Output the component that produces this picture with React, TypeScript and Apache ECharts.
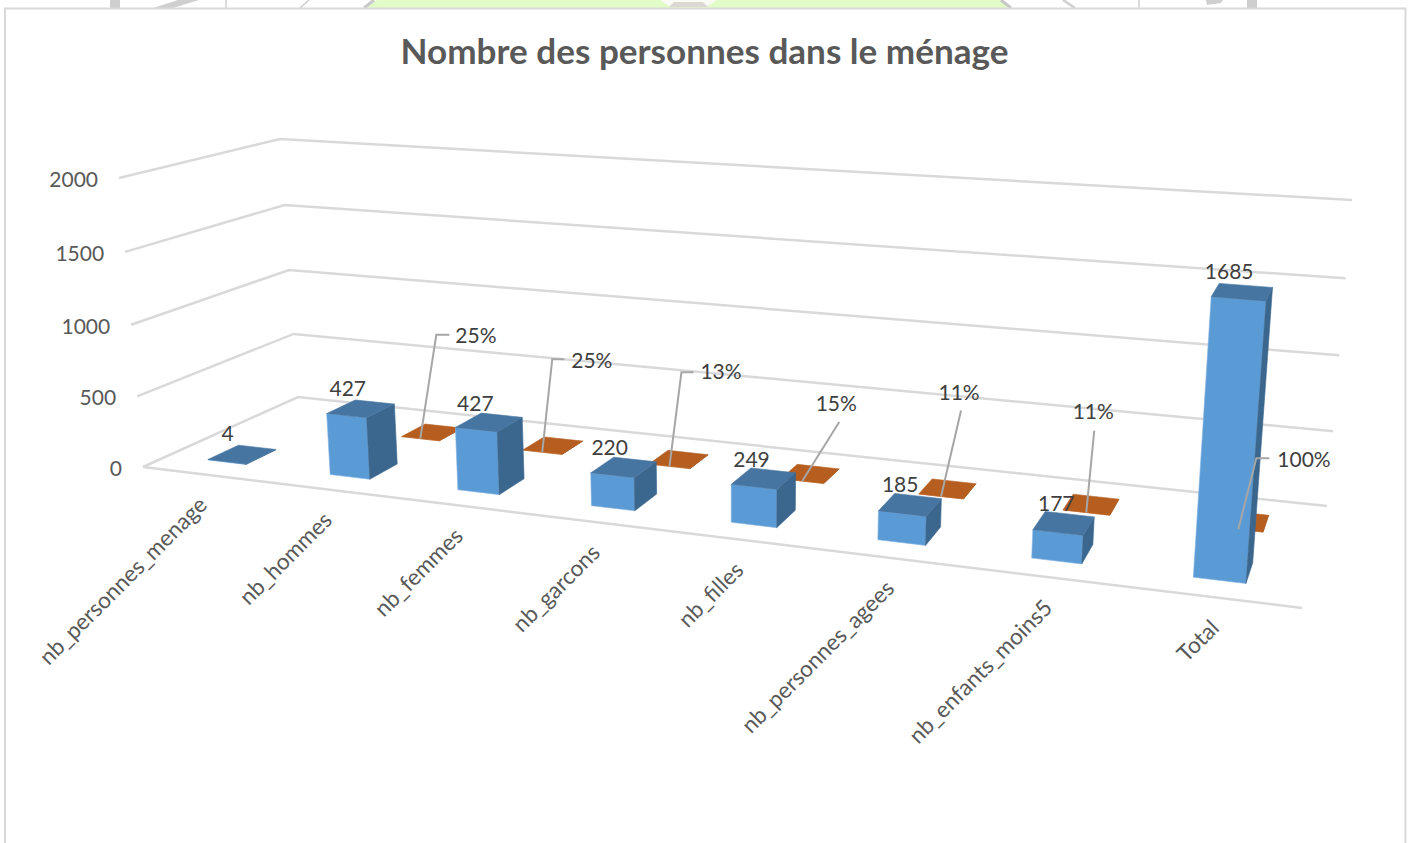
import React, { useEffect, useRef } from "react";
import * as echarts from "echarts";

const titleText = "Nombre des personnes dans le ménage";
const categories = ["nb_personnes_menage", "nb_hommes", "nb_femmes", "nb_garcons", "nb_filles", "nb_personnes_agees", "nb_enfants_moins5", "Total"];
const countValues = [4, 427, 427, 220, 249, 185, 177, 1685];
const shareValues = [null, 0.25, 0.25, 0.13, 0.15, 0.11, 0.11, 1];
const shareLabels = ["", "25%", "25%", "13%", "15%", "11%", "11%", "100%"];
const valueTicks = [0, 500, 1000, 1500, 2000];

// Layout only: where Excel placed the labels, relative to the bar they belong to.
const countLabelOffsets = [[-11, -13], [-7.5, -12], [-6, -11], [-4, -11], [0.5, -9], [5.5, -10], [11, -9], [10, -13]];
const leaderLayouts: any[] = [
  null,
  { pts: [[16, -104], [29, -104]], label: [35, -104], align: "left" },
  { pts: [[10, -93], [22, -93]], label: [29, -93], align: "left" },
  { pts: [[12, -94], [24, -94]], label: [31, -96], align: "left" },
  { pts: [[37, -59]], label: [34, -79], align: "center" },
  { pts: [[20, -86]], label: [18, -105], align: "center" },
  { pts: [[8, -82]], label: [7, -102], align: "center" },
  { pts: [[18, -71], [31, -71]], label: [39, -71], align: "left" },
];

const FONT = "Lato, Carlito, sans-serif";
const GRID = { left: 143, top: 178, width: 1159, height: 289 };
const FLOOR = [[143, 467], [1302, 608], [1327, 506], [298, 397]]; // front-left, front-right, back-right, back-left
const CEILING = [[119, 178], [1329, 262], [1352, 200], [280, 139]];
const VERTICAL_VANISH = [741, 7675];
const BLUE = { front: "#5B9BD5", edge: "#86B6E2", top: "#4675A1", side: "#3B668E" };
const ORANGE = { front: "#ED7D31", edge: "#E3A67C", top: "#B65E20", side: "#8F4A18" };
const BAR_U: [number, number] = [0.33, 0.645];
const BLUE_V: [number, number] = [0.15, 0.34];
const ORANGE_V: [number, number] = [0.65, 0.83];
const RISE = -0.03;

function homography(q: number[][]) {
  const [p0, p1, p2, p3] = q;
  const dx1 = p1[0] - p2[0], dx2 = p3[0] - p2[0], sx = p0[0] - p1[0] + p2[0] - p3[0];
  const dy1 = p1[1] - p2[1], dy2 = p3[1] - p2[1], sy = p0[1] - p1[1] + p2[1] - p3[1];
  const det = dx1 * dy2 - dx2 * dy1;
  const g = (sx * dy2 - dx2 * sy) / det;
  const h = (dx1 * sy - sx * dy1) / det;
  const a = p1[0] - p0[0] + g * p1[0], b = p3[0] - p0[0] + h * p3[0];
  const d = p1[1] - p0[1] + g * p1[1], e = p3[1] - p0[1] + h * p3[1];
  return (u: number, v: number) => {
    const w = g * u + h * v + 1;
    return [(a * u + b * v + p0[0]) / w, (d * u + e * v + p0[1]) / w];
  };
}
const floorAt = homography(FLOOR);
const ceilAt = homography(CEILING);
const rise = (hgt: number) => (hgt * (1 + RISE)) / (1 + RISE * hgt);
function project(u: number, v: number, hgt: number) {
  const f = floorAt(u, v), c = ceilAt(u, v);
  const y = f[1] + (c[1] - f[1]) * rise(hgt);
  const x = f[0] + ((f[1] - y) * (f[0] - VERTICAL_VANISH[0])) / (VERTICAL_VANISH[1] - f[1]);
  return [x, y];
}
function wallPoint(u: number, v: number, hgt: number) {
  const f = floorAt(u, v), c = ceilAt(u, v), t = rise(hgt);
  return [f[0] + (c[0] - f[0]) * t, f[1] + (c[1] - f[1]) * t];
}
const toU = (px: number) => (px - GRID.left) / GRID.width;
const toH = (py: number) => (GRID.top + GRID.height - py) / GRID.height;

function barPlacement(api: any, vRange: [number, number]) {
  const c = api.coord([api.value(0), api.value(1)]);
  const band = api.size([1, 0])[0];
  const left = c[0] - band / 2;
  const u0 = toU(left + band * BAR_U[0]);
  const u1 = toU(left + band * BAR_U[1]);
  return { u0, u1, v0: vRange[0], v1: vRange[1], h: toH(c[1]) };
}

function barRenderer(vRange: [number, number], colors: any) {
  return (_: any, api: any) => {
    const { u0, u1, v0, v1, h } = barPlacement(api, vRange);
    const face = (pts: number[][], fill: string, stroke = fill) => ({ type: "polygon", shape: { points: pts }, style: { fill, stroke, lineWidth: 0.6 } });
    return {
      type: "group",
      children: [
        face([project(u0, v0, 0), project(u1, v0, 0), project(u1, v0, h), project(u0, v0, h)], colors.front, colors.edge),
        face([project(u1, v0, 0), project(u1, v1, 0), project(u1, v1, h), project(u1, v0, h)], colors.side),
        face([project(u0, v0, h), project(u1, v0, h), project(u1, v1, h), project(u0, v1, h)], colors.top),
      ],
    };
  };
}

const text = (x: number, y: number, str: string, extra: any = {}, rotation = 0) => ({
  type: "text",
  x,
  y,
  rotation,
  style: { text: str, fontFamily: FONT, fontSize: 21, fill: "#404040", align: "center", verticalAlign: "middle", ...extra },
});

export default function App() {
  const ref = useRef<HTMLDivElement>(null);
  useEffect(() => {
    const chart = echarts.init(ref.current!, null, { renderer: "svg" });
    const wallLine = { stroke: "#D9D9D9", lineWidth: 2.5, fill: "none" };
    const seriesBase = { type: "custom", coordinateSystem: "cartesian2d", clip: false, silent: true };
    chart.setOption({
      animation: false,
      backgroundColor: "#ffffff",
      title: {
        text: titleText,
        left: 699.5,
        top: 27,
        textAlign: "center",
        textStyle: { fontFamily: FONT, fontSize: 35.1, fontWeight: "bold", color: "#595959" },
      },
      grid: { ...GRID },
      xAxis: { type: "category", data: categories, show: false },
      yAxis: { type: "value", min: 0, max: 2000, interval: 500, show: false },
      graphic: [
        { type: "polygon", shape: { points: [[363, 8], [377, 0], [1000, 0], [1010, 8]] }, style: { fill: "#E2FCC8" } },
        { type: "polygon", shape: { points: [[660, 0], [717, 0], [708, 6], [669, 6]] }, style: { fill: "#FBFBF6" } },
        { type: "polygon", shape: { points: [[674, 2], [703, 2], [708, 7], [669, 7]] }, style: { fill: "#DDD9D2" } },
        { type: "rect", shape: { x: 110, y: 0, width: 10, height: 8 }, style: { fill: "#CFCFCF" } },
        { type: "polygon", shape: { points: [[153, 8], [173, 8], [199, 0], [178, 0]] }, style: { fill: "#CFCFCF" } },
        { type: "line", shape: { x1: 226, y1: 0, x2: 226, y2: 8 }, style: { stroke: "#CFCFCF", lineWidth: 1.5 } },
        { type: "line", shape: { x1: 309, y1: 0, x2: 300, y2: 8 }, style: { stroke: "#CFCFCF", lineWidth: 1.5 } },
        { type: "line", shape: { x1: 374, y1: 0, x2: 364, y2: 8 }, style: { stroke: "#C8C8C8", lineWidth: 3 } },
        { type: "line", shape: { x1: 1001, y1: 0, x2: 1011, y2: 8 }, style: { stroke: "#C8C8C8", lineWidth: 3 } },
        { type: "line", shape: { x1: 1063, y1: 0, x2: 1075, y2: 8 }, style: { stroke: "#CFCFCF", lineWidth: 2.5 } },
        { type: "line", shape: { x1: 1139, y1: 0, x2: 1139, y2: 8 }, style: { stroke: "#CFCFCF", lineWidth: 1.5 } },
        { type: "polygon", shape: { points: [[1206, 0], [1223, 0], [1221, 3], [1207, 5]] }, style: { fill: "#CFCFCF" } },
        { type: "rect", shape: { x: 1247, y: 0, width: 10, height: 8 }, style: { fill: "#CFCFCF" } },
        { type: "polyline", shape: { points: [[5, 843], [5, 8.5], [1405.5, 8.5], [1405.5, 843]] }, style: { stroke: "#D9D9D9", lineWidth: 2, fill: "none" } },
      ],
      series: [
        {
          ...seriesBase,
          name: "walls",
          data: valueTicks.map((t) => [0, t]),
          renderItem: (_: any, api: any) => {
            const tick = api.value(1);
            const h = toH(api.coord([0, tick])[1]);
            const children: any[] = [
              { type: "polyline", shape: { points: [wallPoint(0, 0, h), wallPoint(0, 1, h), wallPoint(1, 1, h)] }, style: wallLine },
            ];
            if (tick === 0) {
              children.push({ type: "polyline", shape: { points: [wallPoint(0, 0, 0), wallPoint(1, 0, 0)] }, style: wallLine });
            }
            const p = wallPoint(0, 0, h);
            children.push(text(p[0] - 21, p[1] + 0.5, String(tick), { align: "right", fill: "#595959" }));
            return { type: "group", children };
          },
        },
        {
          ...seriesBase,
          name: "categories",
          data: categories.map((_, i) => [i, 0]),
          renderItem: (_: any, api: any) => {
            const i = api.value(0);
            const p = project(toU(api.coord([i, 0])[0]), 0, 0);
            return text(p[0] - 1, p[1] + 26, categories[i], { align: "right", fill: "#595959", fontSize: 22.6 }, Math.PI / 4);
          },
        },
        {
          ...seriesBase,
          name: "Part",
          data: shareValues.map((v, i) => [i, v]).filter((d) => d[1] !== null),
          renderItem: barRenderer(ORANGE_V, ORANGE),
        },
        {
          ...seriesBase,
          name: "Nombre",
          data: countValues.map((v, i) => [i, v]),
          renderItem: barRenderer(BLUE_V, BLUE),
        },
        {
          ...seriesBase,
          name: "countLabels",
          data: countValues.map((v, i) => [i, v]),
          renderItem: (_: any, api: any) => {
            const { u0, v1, h } = barPlacement(api, BLUE_V);
            const i = api.value(0);
            const p = project(u0, v1, h);
            return text(p[0] + countLabelOffsets[i][0], p[1] + countLabelOffsets[i][1], String(api.value(1)));
          },
        },
        {
          ...seriesBase,
          name: "shareLabels",
          data: shareValues.map((v, i) => [i, v]).filter((d) => d[1] !== null),
          renderItem: (_: any, api: any) => {
            const { u0, u1, v0, h } = barPlacement(api, ORANGE_V);
            const i = api.value(0);
            const s = project((u0 + u1) / 2, v0, h);
            const layout = leaderLayouts[i];
            const pts = [s, ...layout.pts.map((o: number[]) => [s[0] + o[0], s[1] + o[1]])];
            return {
              type: "group",
              children: [
                { type: "polyline", shape: { points: pts }, style: { stroke: "#A6A6A6", lineWidth: 2, fill: "none" } },
                text(s[0] + layout.label[0], s[1] + layout.label[1], shareLabels[i], { align: layout.align }),
              ],
            };
          },
        },
      ],
    });
    return () => chart.dispose();
  }, []);
  return <div ref={ref} style={{ position: "fixed", left: 0, top: 0, width: 1412, height: 843 }} />;
}
